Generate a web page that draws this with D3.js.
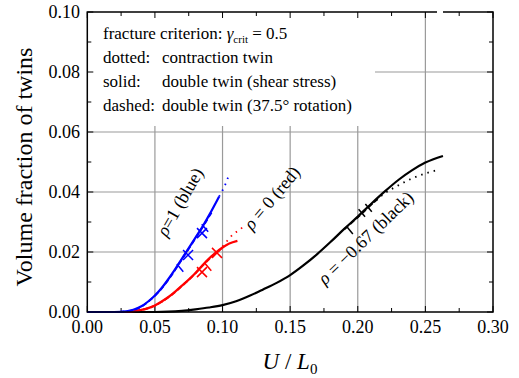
<!DOCTYPE html>
<html><head><meta charset="utf-8">
<script src="https://cdn.jsdelivr.net/npm/d3@7"></script>
<style>svg text, svg tspan { font-family: "Liberation Serif", Tinos, "Times New Roman" !important; }</style>
</head><body style="margin:0"><svg id="c" width="519" height="378" style="font-family:'Liberation Serif'"></svg>
<script>
// ---- data ----
const xTicks = [0, 0.05, 0.10, 0.15, 0.20, 0.25, 0.30];
const yTicks = [0, 0.02, 0.04, 0.06, 0.08, 0.10];
const blueSolid = [[0,0],[0.02,0],[0.03,0.0003],[0.035,0.0009],[0.04,0.0019],[0.045,0.0035],[0.05,0.0055],[0.055,0.008],[0.06,0.011],[0.065,0.0143],[0.07,0.0178],[0.075,0.0213],[0.08,0.0248],[0.085,0.0283],[0.09,0.0322],[0.0975,0.0385]];
const blueDashed = [[0,0],[0.02,0],[0.03,0.0003],[0.035,0.0008],[0.04,0.0018],[0.045,0.0034],[0.05,0.0054],[0.055,0.0079],[0.06,0.0108],[0.065,0.0141],[0.07,0.0176],[0.075,0.0211],[0.08,0.0246],[0.085,0.0281],[0.09,0.0318],[0.093,0.034]];
const blueDotted = [[0.0975,0.0385],[0.1005,0.041],[0.1025,0.043],[0.105,0.046]];
const redSolid = [[0,0],[0.03,0],[0.035,0.0003],[0.04,0.0007],[0.045,0.0013],[0.05,0.0022],[0.055,0.0035],[0.06,0.005],[0.065,0.0068],[0.07,0.0088],[0.075,0.0108],[0.08,0.013],[0.085,0.0155],[0.09,0.0178],[0.095,0.0198],[0.1,0.0215],[0.105,0.0228],[0.111,0.0237]];
const redDashed = [[0,0],[0.03,0],[0.035,0.0003],[0.04,0.0007],[0.045,0.0013],[0.05,0.0021],[0.055,0.0034],[0.06,0.0049],[0.065,0.0067],[0.07,0.0087],[0.075,0.0107],[0.08,0.0129],[0.085,0.0153],[0.09,0.0176],[0.095,0.0196],[0.098,0.0207]];
const redDotted = [[0.1,0.0218],[0.104,0.024],[0.108,0.026],[0.112,0.0272],[0.115,0.0283]];
const blackSolid = [[0,0],[0.05,0],[0.06,0.0001],[0.07,0.0004],[0.08,0.0009],[0.09,0.0015],[0.1,0.0023],[0.11,0.0036],[0.12,0.0054],[0.13,0.0075],[0.14,0.0097],[0.15,0.0123],[0.16,0.0156],[0.17,0.0193],[0.18,0.0234],[0.19,0.0277],[0.2,0.0318],[0.21,0.0361],[0.22,0.0402],[0.23,0.044],[0.24,0.0472],[0.25,0.0498],[0.263,0.052]];
const blackDashed = [[0.19,0.0276],[0.2,0.0316],[0.21,0.0358],[0.215,0.0378]];
const blackDotted = [[0.21,0.0358],[0.22,0.0396],[0.23,0.0422],[0.24,0.0445],[0.25,0.0462],[0.258,0.0472]];
const crossMarks = [["blue",0.0745,0.019],["blue",0.0848,0.0263],["red",0.0848,0.0133],["red",0.0959,0.0197]];
const plusMarks = [["blue",0.0686,0.0147],["blue",0.087,0.028],["red",0.0893,0.015],["black",0.194,0.0273],["black",0.203,0.033],["black",0.208,0.0347]];
const legendLines = [["dotted:","contraction twin"],["solid:","double twin (shear stress)"],["dashed:","double twin (37.5° rotation)"]];
const curveLabels = [["ρ=1 (blue)",0.0724,0.0357,-60],["ρ = 0 (red)",0.140,0.0367,-50],["ρ = −0.67 (black)",0.209,0.0233,-44]];

// ---- chart ----
const FONT = '"Liberation Serif"';
const svg = d3.select("#c");
const L=87.3, R=493, T=12, B=312;
const x = d3.scaleLinear().domain([0,0.3]).range([L,R]);
const y = d3.scaleLinear().domain([0,0.1]).range([B,T]);
const grid = svg.append("g").attr("stroke","#9a9a9a").attr("stroke-width",1.2);
xTicks.slice(1,-1).forEach(t=>grid.append("line").attr("x1",x(t)).attr("x2",x(t)).attr("y1",T).attr("y2",B));
yTicks.slice(1,-1).forEach(t=>grid.append("line").attr("x1",L).attr("x2",R).attr("y1",y(t)).attr("y2",y(t)));
svg.append("rect").attr("x",L).attr("y",T).attr("width",375-L).attr("height",126-T).attr("fill","#fff");

const tk = svg.append("g").attr("stroke","#000").attr("stroke-width",1);
d3.range(0,0.3001,0.025).forEach((t,i)=>{const len=i%2?4:6;
  tk.append("line").attr("x1",x(t)).attr("x2",x(t)).attr("y1",B).attr("y2",B-len);
  tk.append("line").attr("x1",x(t)).attr("x2",x(t)).attr("y1",T).attr("y2",T+len);});
d3.range(0,0.1001,0.01).forEach((t,i)=>{const len=i%2?4:6;
  tk.append("line").attr("x1",L).attr("x2",L+len).attr("y1",y(t)).attr("y2",y(t));
  tk.append("line").attr("x1",R).attr("x2",R-len).attr("y1",y(t)).attr("y2",y(t));});

const line = d3.line().x(d=>x(d[0])).y(d=>y(d[1])).curve(d3.curveMonotoneX);
function draw(data,color,style){
  const p = svg.append("path").datum(data).attr("d",line).attr("fill","none").attr("stroke",color);
  if(style==="solid") p.attr("stroke-width",2.2);
  if(style==="dashed") p.attr("stroke-width",2).attr("stroke-dasharray","5,3");
  if(style==="dotted") p.attr("stroke-width",1.8).attr("stroke-dasharray","1.5,5");
}
draw(blackDashed,"#000","dashed");draw(blackDotted,"#000","dotted");draw(blackSolid,"#000","solid");
draw(redDashed,"#ff0000","dashed");draw(redDotted,"#ff0000","dotted");draw(redSolid,"#ff0000","solid");
draw(blueDashed,"#0000ff","dashed");draw(blueDotted,"#0000ff","dotted");draw(blueSolid,"#0000ff","solid");
const cmap={blue:"#0000ff",red:"#ff0000",black:"#000"};
crossMarks.forEach(([c,a,b])=>{const cx=x(a),cy=y(b),s=5;
  svg.append("path").attr("d",`M${cx-s},${cy-s}L${cx+s},${cy+s}M${cx-s},${cy+s}L${cx+s},${cy-s}`).attr("stroke",cmap[c]).attr("stroke-width",1.5);});
plusMarks.forEach(([c,a,b])=>{const cx=x(a),cy=y(b),s=5,ang=-40*Math.PI/180;
  const dx=Math.cos(ang)*s, dy=Math.sin(ang)*s;
  svg.append("path").attr("d",`M${cx-dy},${cy+dx}L${cx+dy},${cy-dx}`).attr("stroke",cmap[c]).attr("stroke-width",1.5);});

svg.append("rect").attr("x",L).attr("y",T).attr("width",R-L).attr("height",B-T).attr("fill","none").attr("stroke","#000").attr("stroke-width",1.5);
svg.append("rect").attr("x",437).attr("y",T-2).attr("width",6).attr("height",4).attr("fill","#fff");

function txt(){ return svg.append("text").attr("font-family","Liberation Serif").style("font-family",FONT); }
xTicks.forEach(t=>txt().attr("x",x(t)).attr("y",333).attr("text-anchor","middle").attr("font-size",18).text(t.toFixed(2)));
yTicks.forEach(t=>txt().attr("x",80).attr("y",y(t)+6).attr("text-anchor","end").attr("font-size",18).text(t.toFixed(2)));

txt().attr("transform","translate(32,167) rotate(-90)").attr("text-anchor","middle").attr("font-size",24).text("Volume fraction of twins");
const xl = txt().attr("x",290).attr("y",369).attr("text-anchor","middle").attr("font-size",23);
xl.append("tspan").attr("font-style","italic").text("U");
xl.append("tspan").text(" / ");
xl.append("tspan").attr("font-style","italic").text("L");
xl.append("tspan").attr("font-size",15).attr("dy",5).text("0");

const lg = txt().attr("x",103).attr("y",39).attr("font-size",17);
lg.append("tspan").text("fracture criterion: ");
lg.append("tspan").attr("font-style","italic").text("γ");
lg.append("tspan").attr("font-size",11).attr("dy",4).text("crit");
lg.append("tspan").attr("dy",-4).text(" = 0.5");
legendLines.forEach((d,i)=>{
  txt().attr("x",103).attr("y",63+i*24).attr("font-size",17).text(d[0]);
  txt().attr("x",162).attr("y",63+i*24).attr("font-size",17).text(d[1]);
});

curveLabels.forEach(([t,a,b,ang])=>{
  const tx = txt().attr("transform",`translate(${x(a)},${y(b)}) rotate(${ang})`).attr("text-anchor","middle").attr("font-size",18);
  tx.append("tspan").attr("font-style","italic").text(t[0]);
  tx.append("tspan").text(t.slice(1));
});
</script></body></html>
